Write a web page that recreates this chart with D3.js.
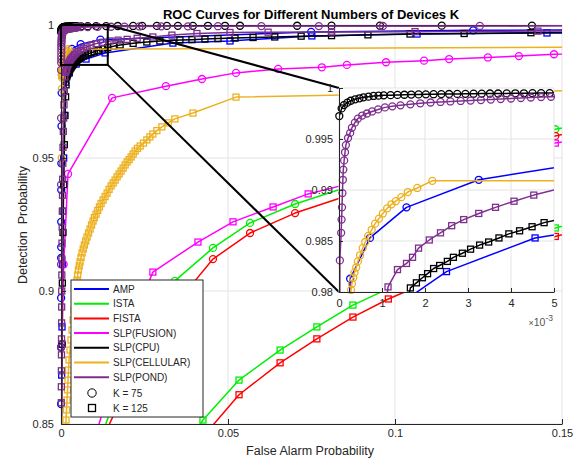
<!DOCTYPE html>
<html>
<head>
<meta charset="utf-8">
<script src="https://cdn.jsdelivr.net/npm/d3@7"></script>
<style>
  body { margin: 0; background: #fff; }
  text { font-family: "Liberation Sans", Arial, Helvetica, sans-serif; fill: #262626; }
</style>
</head>
<body>
<svg id="chart" width="581" height="459"></svg>
<script>
// ROC points [false alarm probability, detection probability] per method and K
const ampK75 = [[0.00002,0.8575],[0.00003,0.879],[0.00004,0.8974],[0.00005,0.9124],[0.00006,0.9165],[0.00007,0.926],[0.00008,0.938],[0.0001,0.948],[0.00014,0.962],[0.0002,0.9745],[0.00026,0.9813],[0.00072,0.9853],[0.00157,0.9883],[0.00325,0.991],[0.0059,0.9928],[0.0118,0.9945],[0.0749,0.9974],[0.1234,0.998],[0.17,0.9982]];
const ampK125 = [[0.0001,0.845],[0.0002,0.8684],[0.0003,0.8865],[0.00045,0.91],[0.0006,0.93],[0.0008,0.95],[0.001,0.966],[0.0013,0.9785],[0.0025,0.982],[0.00456,0.9853],[0.0075,0.9872],[0.0132,0.9895],[0.0335,0.9932],[0.0506,0.994],[0.0751,0.9959],[0.1066,0.9966],[0.1455,0.997],[0.17,0.9972]];
const istaK75 = [[0.011,0.842],[0.02,0.872],[0.0341,0.9038],[0.0455,0.9162],[0.0566,0.9256],[0.0701,0.9327],[0.085,0.9388],[0.1,0.9445],[0.115,0.95],[0.13,0.9553],[0.148,0.9608],[0.17,0.966]];
const istaK125 = [[0.038,0.843],[0.0425,0.8515],[0.0533,0.8665],[0.0656,0.8778],[0.0766,0.8865],[0.0874,0.8947],[0.1,0.902],[0.115,0.9095],[0.13,0.9165],[0.148,0.9237],[0.17,0.931]];
const fistaK75 = [[0.0115,0.842],[0.022,0.87],[0.033,0.893],[0.0455,0.912],[0.0566,0.9218],[0.0701,0.9293],[0.085,0.9355],[0.1,0.9415],[0.115,0.947],[0.13,0.9525],[0.148,0.9583],[0.17,0.964]];
const fistaK125 = [[0.041,0.843],[0.0533,0.861],[0.0656,0.873],[0.0766,0.882],[0.0874,0.8902],[0.098,0.897],[0.112,0.9045],[0.126,0.911],[0.14,0.917],[0.148,0.9205],[0.17,0.928]];
const fusionK75 = [[0.00003,0.84],[0.0003,0.88],[0.0008,0.91],[0.0021,0.944],[0.0153,0.9726],[0.0314,0.977],[0.0422,0.9797],[0.0524,0.982],[0.065,0.9835],[0.0781,0.9841],[0.0856,0.985],[0.0973,0.986],[0.1087,0.9866],[0.1162,0.9872],[0.1278,0.9878],[0.1371,0.9883],[0.1476,0.989],[0.17,0.99]];
const fusionK125 = [[0.0095,0.842],[0.018,0.878],[0.0275,0.9071],[0.041,0.9184],[0.0515,0.926],[0.0635,0.9316],[0.074,0.9365],[0.09,0.9415],[0.105,0.946],[0.12,0.9497],[0.135,0.9528],[0.148,0.9556],[0.17,0.96]];
const cpuK75 = [[0,0.84],[0.000007,0.99725],[0.000062,0.998],[0.000117,0.99833],[0.000195,0.99856],[0.000273,0.99875],[0.000374,0.99889],[0.000475,0.99899],[0.000569,0.99909],[0.000686,0.99915],[0.000802,0.99922],[0.000919,0.99925],[0.00104,0.99928],[0.0012,0.9993],[0.00136,0.99932],[0.00152,0.99934],[0.00168,0.99936],[0.00185,0.99937],[0.00202,0.99938],[0.0022,0.99939],[0.00238,0.9994],[0.00256,0.99941],[0.00275,0.99942],[0.00294,0.99943],[0.00313,0.99944],[0.00332,0.99945],[0.00351,0.99946],[0.0037,0.99946],[0.0039,0.99947],[0.0041,0.99948],[0.0043,0.99948],[0.0045,0.99949],[0.0047,0.9995],[0.0049,0.9995],[0.006,0.99952],[0.008,0.99955],[0.0105,0.99958],[0.0135,0.9996],[0.017,0.99962],[0.0216,0.99964],[0.0243,0.99965],[0.0287,0.99966],[0.0317,0.99967],[0.035,0.99968],[0.0395,0.99969],[0.044,0.9997],[0.0491,0.9997],[0.0536,0.99971],[0.0707,0.99972],[0.081,0.99973],[0.0955,0.99974],[0.114,0.99975],[0.141,0.99977],[0.17,0.9998]];
const cpuK125 = [[0.0001,0.84],[0.0003,0.88],[0.0004,0.903],[0.0006,0.922],[0.0008,0.94],[0.001,0.955],[0.0012,0.966],[0.00138,0.973],[0.00152,0.9775],[0.00166,0.9804],[0.0018,0.9809],[0.00194,0.9814],[0.00206,0.9818],[0.0022,0.9823],[0.00234,0.9826],[0.00252,0.983],[0.00266,0.9834],[0.00287,0.9838],[0.00306,0.9842],[0.00327,0.9846],[0.00348,0.9849],[0.00372,0.9853],[0.00395,0.9857],[0.0042,0.986],[0.00449,0.9864],[0.00477,0.9868],[0.0051,0.9871],[0.0055,0.9875],[0.006,0.9879],[0.0066,0.9883],[0.0073,0.9887],[0.0081,0.9891],[0.009,0.9896],[0.01,0.99],[0.0112,0.9905],[0.0125,0.991],[0.014,0.9915],[0.0157,0.992],[0.0177,0.9925],[0.0216,0.9931],[0.0257,0.9936],[0.0296,0.994],[0.0356,0.9944],[0.0392,0.9945],[0.0431,0.9947],[0.047,0.9949],[0.0521,0.9951],[0.0575,0.9953],[0.064,0.9955],[0.0719,0.9958],[0.081,0.996],[0.0919,0.9963],[0.1045,0.9966],[0.1207,0.9968],[0.1407,0.9971],[0.17,0.9973]];
const cellularK75 = [[0.0001,0.84],[0.0002,0.95],[0.00025,0.976],[0.00028,0.9802],[0.0003,0.9808],[0.00033,0.9814],[0.00036,0.9819],[0.0004,0.9824],[0.00044,0.983],[0.00049,0.9836],[0.00055,0.9843],[0.00061,0.9849],[0.00068,0.9855],[0.00076,0.9861],[0.00084,0.9867],[0.00093,0.9872],[0.00102,0.9877],[0.00112,0.9882],[0.00122,0.9886],[0.00132,0.9889],[0.00145,0.9893],[0.0016,0.9898],[0.00182,0.9902],[0.00217,0.9909],[0.17,0.9917]];
const cellularK125 = [[0.0014,0.846],[0.0015,0.8515],[0.00165,0.8553],[0.0018,0.859],[0.00195,0.8628],[0.0021,0.8665],[0.00225,0.8703],[0.0024,0.8741],[0.0027,0.8778],[0.003,0.8816],[0.0033,0.8853],[0.0036,0.8891],[0.0039,0.8929],[0.0042,0.8966],[0.0045,0.9004],[0.0048,0.9041],[0.005,0.906],[0.0052,0.9079],[0.00545,0.9094],[0.0057,0.9109],[0.006,0.9126],[0.0063,0.9143],[0.00665,0.9158],[0.007,0.9173],[0.0074,0.9188],[0.0078,0.9203],[0.00825,0.9218],[0.0087,0.9233],[0.00915,0.9248],[0.0096,0.9263],[0.01,0.9276],[0.0105,0.9289],[0.011,0.9303],[0.0115,0.9316],[0.012,0.9329],[0.0126,0.9342],[0.0132,0.9355],[0.0138,0.9368],[0.0144,0.9382],[0.015,0.9395],[0.0156,0.9406],[0.0162,0.9417],[0.0168,0.9429],[0.0174,0.944],[0.018,0.9451],[0.0186,0.9462],[0.0192,0.9474],[0.0198,0.9485],[0.0204,0.9494],[0.021,0.9504],[0.0216,0.9515],[0.0222,0.9526],[0.0229,0.9536],[0.0237,0.9545],[0.0247,0.9556],[0.0257,0.9568],[0.0266,0.9579],[0.0275,0.959],[0.0287,0.9603],[0.0302,0.9617],[0.0321,0.9632],[0.0341,0.9647],[0.0395,0.9669],[0.0524,0.9729],[0.17,0.9758]];
const pondK75 = [[0.00001,0.84],[0.00001,0.8786],[0.000015,0.91],[0.00002,0.94],[0.00002,0.965],[0.00002,0.9831],[0.00005,0.9858],[0.00006,0.9871],[0.00007,0.9883],[0.00008,0.9897],[0.00009,0.991],[0.0001,0.992],[0.00012,0.9929],[0.00014,0.9937],[0.00016,0.9944],[0.00021,0.9951],[0.00026,0.9956],[0.0003,0.9961],[0.00037,0.9966],[0.00044,0.997],[0.00054,0.9973],[0.00065,0.9975],[0.00077,0.9977],[0.00091,0.9979],[0.00107,0.9981],[0.00124,0.9982],[0.00143,0.9983],[0.00166,0.9984],[0.00189,0.9985],[0.00213,0.99858],[0.00236,0.99863],[0.00259,0.99868],[0.00283,0.99873],[0.00306,0.99877],[0.0033,0.99882],[0.00353,0.99887],[0.00376,0.99892],[0.004,0.99897],[0.00423,0.99902],[0.00446,0.99907],[0.0047,0.99912],[0.00493,0.99914],[0.006,0.9992],[0.008,0.99925],[0.011,0.9993],[0.015,0.99935],[0.019,0.9994],[0.0235,0.99945],[0.03,0.9995],[0.038,0.9995],[0.047,0.99955],[0.06,0.9996],[0.0772,0.9996],[0.0964,0.99962],[0.1254,0.99965],[0.17,0.9997]];
const pondK125 = [[0.00005,0.845],[0.00008,0.858],[0.0001,0.864],[0.00012,0.87],[0.00014,0.876],[0.00016,0.882],[0.00018,0.888],[0.0002,0.894],[0.00022,0.9],[0.00025,0.906],[0.00028,0.912],[0.0003,0.918],[0.00035,0.924],[0.0004,0.93],[0.00045,0.936],[0.0005,0.942],[0.00055,0.948],[0.0006,0.954],[0.0007,0.96],[0.0008,0.965],[0.0009,0.97],[0.001,0.975],[0.00114,0.9805],[0.00136,0.9822],[0.00157,0.9828],[0.00171,0.9834],[0.00185,0.9843],[0.0021,0.9851],[0.00236,0.9858],[0.00262,0.9865],[0.0029,0.9871],[0.00325,0.9877],[0.00364,0.9883],[0.00407,0.9889],[0.00453,0.9895],[0.0051,0.9901],[0.0058,0.9906],[0.0067,0.9912],[0.0078,0.9918],[0.009,0.9924],[0.0105,0.993],[0.0125,0.9935],[0.0147,0.994],[0.0171,0.9943],[0.0198,0.9946],[0.0228,0.995],[0.0275,0.9955],[0.0332,0.9962],[0.0407,0.9968],[0.0506,0.9972],[0.062,0.9973],[0.081,0.9974],[0.106,0.9975],[0.1428,0.9977],[0.17,0.9978]];

const methods = ["AMP", "ISTA", "FISTA", "SLP(FUSION)", "SLP(CPU)", "SLP(CELLULAR)", "SLP(POND)"];
const seriesK75 = [ampK75, istaK75, fistaK75, fusionK75, cpuK75, cellularK75, pondK75];
const seriesK125 = [ampK125, istaK125, fistaK125, fusionK125, cpuK125, cellularK125, pondK125];
const kLabels = ["K = 75", "K = 125"];
const mainXTicks = [0, 0.05, 0.1, 0.15];
const mainYTicks = [0.85, 0.9, 0.95, 1];
const insetXTicks = [0, 0.001, 0.002, 0.003, 0.004, 0.005];
const insetYTicks = [0.98, 0.985, 0.99, 0.995, 1];
const zoomWindow = { x: [0, 0.014], y: [0.985, 1] };

const colors = ["#0000ff", "#00ee00", "#ff0000", "#ff00ff", "#000000", "#edb120", "#7e2f8e"];
const axisColor = "#262626";
const gridColor = "#e3e3e3";

const svg = d3.select("#chart");
const M = { left: 61, right: 562, top: 25, bottom: 424 };
const I = { left: 339, right: 554, top: 88, bottom: 292 };

const x = d3.scaleLinear().domain([0, 0.15]).range([M.left, M.right]);
const y = d3.scaleLinear().domain([0.85, 1]).range([M.bottom, M.top]);
const xi = d3.scaleLinear().domain([0, 0.005]).range([I.left, I.right]);
const yi = d3.scaleLinear().domain([0.98, 1]).range([I.bottom, I.top]);

const defs = svg.append("defs");
defs.append("clipPath").attr("id", "clipMain").append("rect")
  .attr("x", M.left).attr("y", M.top).attr("width", M.right - M.left).attr("height", M.bottom - M.top);
defs.append("clipPath").attr("id", "clipInset").append("rect")
  .attr("x", I.left).attr("y", I.top).attr("width", I.right - I.left).attr("height", I.bottom - I.top);

function drawGrid(g, xs, ys, xt, yt) {
  const [ya, yb] = ys.range(), [xa, xb] = xs.range();
  g.selectAll(null).data(xt).join("line")
    .attr("x1", d => xs(d)).attr("x2", d => xs(d)).attr("y1", ya).attr("y2", yb)
    .attr("stroke", gridColor).attr("stroke-width", 1);
  g.selectAll(null).data(yt).join("line")
    .attr("y1", d => ys(d)).attr("y2", d => ys(d)).attr("x1", xa).attr("x2", xb)
    .attr("stroke", gridColor).attr("stroke-width", 1);
}

function drawCurves(g, xs, ys, clipId) {
  const [x0, x1] = xs.domain(), [y0, y1] = ys.domain();
  const eps = 1e-9;
  const inside = d => d[0] >= x0 - eps && d[0] <= x1 + eps && d[1] >= y0 - eps && d[1] <= y1 + eps;
  const line = d3.line().x(d => xs(d[0])).y(d => ys(d[1]));
  methods.forEach((m, i) => {
    [seriesK75[i], seriesK125[i]].forEach((data, k) => {
      const s = g.append("g");
      s.append("path").attr("d", line(data))
        .attr("fill", "none").attr("stroke", colors[i]).attr("stroke-width", 1.5)
        .attr("stroke-linejoin", "round").attr("clip-path", `url(#${clipId})`);
      const pts = data.filter(inside);
      if (k === 0) {
        s.selectAll(null).data(pts).join("circle")
          .attr("cx", d => xs(d[0])).attr("cy", d => ys(d[1])).attr("r", 3.5)
          .attr("fill", "none").attr("stroke", colors[i]).attr("stroke-width", 1.3);
      } else {
        s.selectAll(null).data(pts).join("rect")
          .attr("x", d => xs(d[0]) - 3).attr("y", d => ys(d[1]) - 3)
          .attr("width", 6).attr("height", 6)
          .attr("fill", "none").attr("stroke", colors[i]).attr("stroke-width", 1.3);
      }
    });
  });
}

function styleAxis(g) {
  g.select(".domain").attr("stroke", axisColor).attr("stroke-width", 1);
  g.selectAll(".tick line").attr("stroke", axisColor);
  g.selectAll(".tick text").style("fill", axisColor);
}

// ---- main axes ----
const gMain = svg.append("g");
drawGrid(gMain, x, y, mainXTicks, mainYTicks);
drawCurves(gMain, x, y, "clipMain");

const fmt = d => String(d);
gMain.append("g").attr("transform", `translate(0,${M.bottom})`)
  .call(d3.axisBottom(x).tickValues(mainXTicks).tickFormat(fmt).tickSizeInner(-5).tickSizeOuter(0).tickPadding(5))
  .attr("font-size", 11).attr("font-family", "Liberation Sans, Arial, sans-serif")
  .call(styleAxis);
gMain.append("g").attr("transform", `translate(${M.left},0)`)
  .call(d3.axisLeft(y).tickValues(mainYTicks).tickFormat(fmt).tickSizeInner(-5).tickSizeOuter(0).tickPadding(7))
  .attr("font-size", 11).attr("font-family", "Liberation Sans, Arial, sans-serif")
  .call(styleAxis);

// ---- zoom window and connectors ----
const zx1 = x(zoomWindow.x[1]), zx0 = x(zoomWindow.x[0]);
const zyTop = y(zoomWindow.y[1]), zyBot = y(zoomWindow.y[0]);
svg.append("rect").attr("x", zx0).attr("y", zyTop).attr("width", zx1 - zx0).attr("height", zyBot - zyTop)
  .attr("fill", "none").attr("stroke", "#000").attr("stroke-width", 2);
svg.append("line").attr("x1", zx1).attr("y1", zyTop).attr("x2", I.left).attr("y2", I.top)
  .attr("stroke", "#000").attr("stroke-width", 2);
svg.append("line").attr("x1", zx1).attr("y1", zyBot).attr("x2", I.left).attr("y2", I.bottom)
  .attr("stroke", "#000").attr("stroke-width", 2);

// ---- legend ----
const lg = svg.append("g").attr("font-size", 10);
lg.append("rect").attr("x", 71).attr("y", 280).attr("width", 132).attr("height", 137)
  .attr("fill", "#fff").attr("stroke", axisColor).attr("stroke-width", 1);
methods.forEach((m, i) => {
  const yy = 289 + i * 14.7;
  lg.append("line").attr("x1", 74).attr("x2", 109).attr("y1", yy).attr("y2", yy)
    .attr("stroke", colors[i]).attr("stroke-width", 2);
  lg.append("text").attr("x", 113).attr("y", yy + 3.6).text(m);
});
kLabels.forEach((t, k) => {
  const yy = 393 + k * 15;
  if (k === 0) {
    lg.append("circle").attr("cx", 92).attr("cy", yy).attr("r", 4.2)
      .attr("fill", "none").attr("stroke", "#000").attr("stroke-width", 1);
  } else {
    lg.append("rect").attr("x", 88.5).attr("y", yy - 3.5).attr("width", 7).attr("height", 7)
      .attr("fill", "none").attr("stroke", "#000").attr("stroke-width", 1.3);
  }
  lg.append("text").attr("x", 113).attr("y", yy + 3.6).text(t);
});

// ---- inset axes ----
const gIn = svg.append("g");
gIn.append("rect").attr("x", I.left).attr("y", I.top).attr("width", I.right - I.left).attr("height", I.bottom - I.top)
  .attr("fill", "#fff");
drawGrid(gIn, xi, yi, insetXTicks, insetYTicks);
drawCurves(gIn, xi, yi, "clipInset");
gIn.append("g").attr("transform", `translate(0,${I.bottom})`)
  .call(d3.axisBottom(xi).tickValues(insetXTicks).tickFormat(d => String(Math.round(d * 1000)))
    .tickSizeInner(-4).tickSizeOuter(0).tickPadding(7))
  .attr("font-size", 11).attr("font-family", "Liberation Sans, Arial, sans-serif")
  .call(styleAxis);
gIn.append("g").attr("transform", `translate(${I.left},0)`)
  .call(d3.axisLeft(yi).tickValues(insetYTicks).tickFormat(fmt).tickSizeInner(-4).tickSizeOuter(0).tickPadding(6))
  .attr("font-size", 11).attr("font-family", "Liberation Sans, Arial, sans-serif")
  .call(styleAxis);
const expo = gIn.append("text").attr("x", 553).attr("y", 326).attr("text-anchor", "end")
  .attr("font-size", 10.5).style("fill", "#555");
expo.append("tspan").attr("font-size", 9).text("×");
expo.append("tspan").text("10");
expo.append("tspan").attr("dy", -5).attr("font-size", 8.5).text("-3");

// ---- titles ----
svg.append("text").attr("x", 311).attr("y", 19).attr("text-anchor", "middle")
  .attr("font-size", 13).attr("font-weight", "bold").style("fill", "#000")
  .text("ROC Curves for Different Numbers of Devices K");
svg.append("text").attr("x", 310).attr("y", 455).attr("text-anchor", "middle")
  .attr("font-size", 12.5).text("False Alarm Probability");
svg.append("text").attr("transform", "translate(27,225) rotate(-90)").attr("text-anchor", "middle")
  .attr("font-size", 12.5).attr("xml:space", "preserve").text("Detection  Probability");
</script>
</body>
</html>
